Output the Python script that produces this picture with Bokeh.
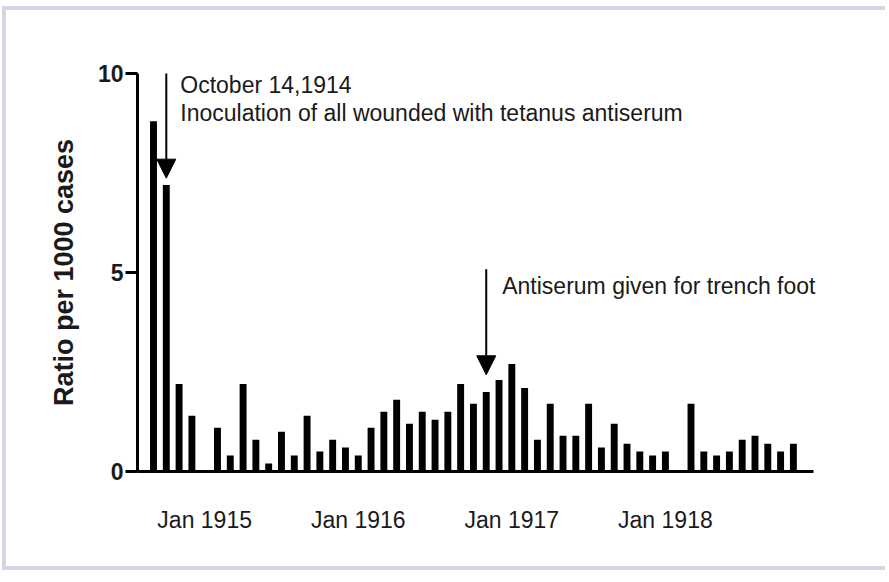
import pandas as pd
from bokeh.plotting import figure
from bokeh.models import ColumnDataSource, Range1d, FixedTicker, Arrow, NormalHead, Label
from bokeh.embed import file_html
from bokeh.resources import INLINE

# ---- data ----
months = [m.strftime("%b %Y") for m in pd.period_range("1914-09", "1918-11", freq="M")]
ratio = [8.8, 7.2, 2.2, 1.4, None, 1.1, 0.4, 2.2, 0.8, 0.2,
         1.0, 0.4, 1.4, 0.5, 0.8, 0.6, 0.4, 1.1, 1.5, 1.8,
         1.2, 1.5, 1.3, 1.5, 2.2, 1.7, 2.0, 2.3, 2.7, 2.1,
         0.8, 1.7, 0.9, 0.9, 1.7, 0.6, 1.2, 0.7, 0.5, 0.4,
         0.5, None, 1.7, 0.5, 0.4, 0.5, 0.8, 0.9, 0.7, 0.5, 0.7]
x_tick_labels = ["Jan 1915", "Jan 1916", "Jan 1917", "Jan 1918"]
y_ticks = [0, 5, 10]
event1_month = "Oct 1914"
event1_text = ["October 14,1914", "Inoculation of all wounded with tetanus antiserum"]
event2_month = "Nov 1916"
event2_text = "Antiserum given for trench foot"

# ---- build ----
xs = [i for i, v in enumerate(ratio) if v is not None]
tops = [v for v in ratio if v is not None]
src = ColumnDataSource(dict(x=xs, top=tops))

FONT = "Liberation Sans"
TXT = "#1a1a1a"
BORDER = "#d3d6e8"

x_lo, x_axis_hi, x_view_hi = -1.25, len(months) + 0.55, len(months) + 1.9

p = figure(width=883, height=564, output_backend="svg", toolbar_location=None,
           x_range=Range1d(x_lo, x_view_hi), y_range=Range1d(0, 10),
           min_border_left=131, min_border_right=59, min_border_top=63, min_border_bottom=103,
           background_fill_color="white", border_fill_color="white")
p.styles = {"border-left": f"4px solid {BORDER}", "border-top": f"4px solid {BORDER}",
            "border-bottom": f"4px solid {BORDER}", "margin-left": "2px", "margin-top": "6px"}
p.outline_line_color = None
p.grid.visible = False

p.vbar(x="x", top="top", width=0.54, source=src, fill_color="black", line_color=None)

# y axis
ya = p.yaxis[0]
ya.ticker = FixedTicker(ticks=y_ticks)
ya.axis_line_width = 3
ya.axis_line_color = "black"
ya.major_tick_line_width = 3
ya.major_tick_out = 12
ya.major_tick_in = 0
ya.minor_tick_line_color = None
ya.major_label_text_font = FONT
ya.major_label_text_font_style = "bold"
ya.major_label_text_font_size = "23px"
ya.major_label_text_color = TXT
ya.major_label_standoff = 2
ya.axis_label = "Ratio per 1000 cases"
ya.axis_label_text_font = FONT
ya.axis_label_text_font_style = "bold"
ya.axis_label_text_font_size = "27px"
ya.axis_label_text_color = TXT
ya.axis_label_standoff = 16

# x axis
xa = p.xaxis[0]
tick_pos = [months.index(t) for t in x_tick_labels]
xa.ticker = FixedTicker(ticks=tick_pos)
xa.major_label_overrides = {pos: lab for pos, lab in zip(tick_pos, x_tick_labels)}
xa.bounds = (x_lo, x_axis_hi)
xa.axis_line_width = 3
xa.axis_line_color = "black"
xa.major_tick_line_color = None
xa.major_tick_out = 0
xa.major_tick_in = 0
xa.minor_tick_line_color = None
xa.major_label_text_font = FONT
xa.major_label_text_font_size = "23px"
xa.major_label_text_color = TXT
xa.major_label_standoff = 35

# annotations
i1 = months.index(event1_month)
i2 = months.index(event2_month)
p.add_layout(Arrow(end=NormalHead(size=19, fill_color="black", line_color="black"),
                   x_start=i1, y_start=10.07, x_end=i1, y_end=ratio[i1] + 0.17,
                   line_width=2, line_color="black"))
p.add_layout(Arrow(end=NormalHead(size=19, fill_color="black", line_color="black"),
                   x_start=i2, y_start=5.08, x_end=i2, y_end=ratio[i2] + 0.43,
                   line_width=2, line_color="black"))
for t, yy in zip(event1_text, [9.72, 9.02]):
    p.add_layout(Label(x=i1, y=yy, x_offset=14, text=t, text_baseline="middle",
                       text_font=FONT, text_font_size="23px", text_color=TXT))
p.add_layout(Label(x=i2, y=4.65, x_offset=16, text=event2_text, text_baseline="middle",
                   text_font=FONT, text_font_size="23px", text_color=TXT))

open("out.html", "w").write(file_html(p, INLINE))
